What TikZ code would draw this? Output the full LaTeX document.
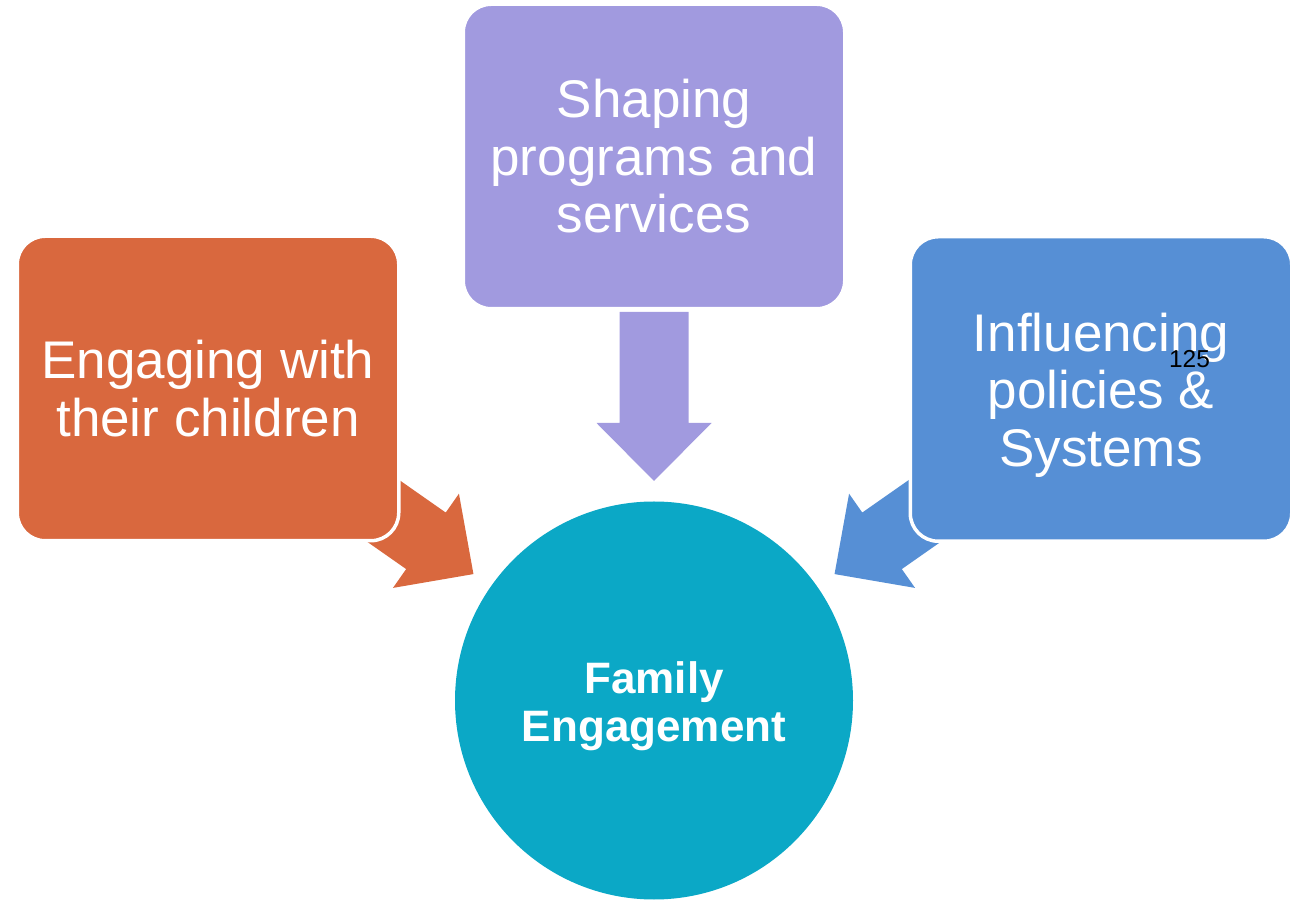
\documentclass[tikz,border=0pt]{standalone}
\usepackage{fontspec}
\setmainfont{Liberation Sans}
\usetikzlibrary{calc}

\definecolor{engageorange}{HTML}{D9683E}
\definecolor{shapepurple}{HTML}{A19ADF}
\definecolor{policyblue}{HTML}{568FD5}
\definecolor{familyteal}{HTML}{0BA8C6}

% invisible strut that lowers a text block inside its node
\newcommand{\lowerby}[1]{\rule{0pt}{#1}}

\tikzset{
  topicbox/.style={rectangle, rounded corners=28pt, draw=white, line width=3.5pt,
    minimum width=381.5pt, minimum height=304.5pt, inner sep=0pt,
    text=white, align=center, font=\fontsize{53}{57.5}\selectfont},
  hub/.style={circle, minimum size=398pt, inner sep=0pt, fill=familyteal,
    text=white, align=center, font=\fontsize{44}{48}\selectfont\bfseries},
  % block arrow with its tip at the origin, pointing along +x
  blockarrow/.pic={
    \path[pic actions] (-169,-34.5) -- (-58,-34.5) -- (-58,-57.5) -- (0,0)
      -- (-58,57.5) -- (-58,34.5) -- (-169,34.5) -- cycle;
  }
}

\begin{document}
\begin{tikzpicture}[x=1pt, y=1pt]
  \useasboundingbox (0,0) rectangle (1291,900);

  % central circle
  \node[hub] (fam) at (654,199.5) {\lowerby{44pt}Family\\Engagement};

  % arrows pointing at the centre of the circle
  \pic[fill=engageorange, rotate=-35] at ($(fam.center)+(145:220.4)$) {blockarrow};
  \pic[fill=shapepurple, rotate=-90] at ($(fam.center)+(90:219.5)$) {blockarrow};
  \pic[fill=policyblue, rotate=-145] at ($(fam.center)+(35:220.4)$) {blockarrow};

  % the three topic boxes, drawn over the arrow tails
  \node[topicbox, fill=engageorange] (child) at (208,511.5) {Engaging with\\their children};
  \node[topicbox, fill=shapepurple] (prog) at (654,743.5) {Shaping\\programs and\\services};
  \node[topicbox, fill=policyblue] (policy) at (1101,511) {\lowerby{51pt}Influencing\\policies \&\\Systems};

  % page number
  \node[text=black, inner sep=0pt, font=\fontsize{24.5}{28}\selectfont] (num) at (1189.5,541) {125};
\end{tikzpicture}
\end{document}
